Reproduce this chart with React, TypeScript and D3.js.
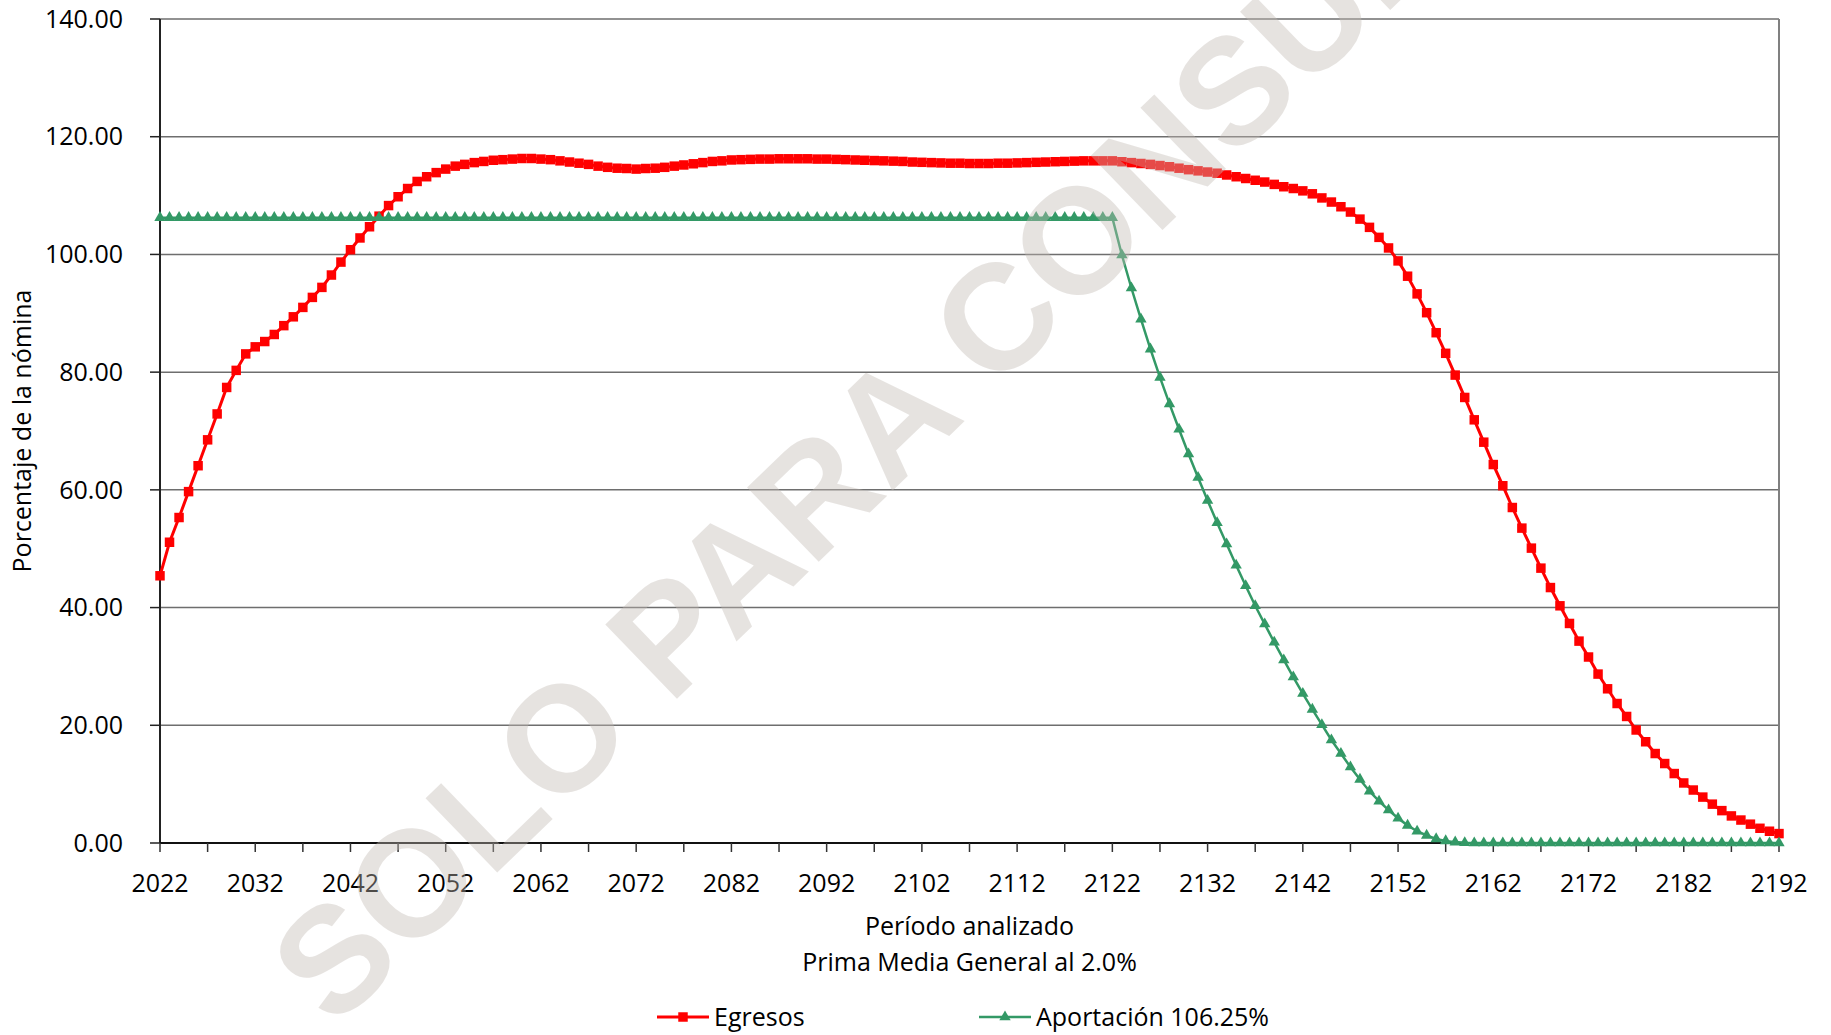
import React, { useEffect, useRef } from 'react';
import * as d3 from 'd3';

// años del período analizado
const years = d3.range(2022, 2193);

// Egresos (% de la nómina), 2022..2192
const egresos = [
  45.4, 51.1, 55.3, 59.7, 64.1, 68.5, 72.9, 77.4, 80.3, 83.1,
  84.3, 85.2, 86.4, 87.9, 89.4, 91.0, 92.7, 94.4, 96.5, 98.7,
  100.8, 102.8, 104.7, 106.5, 108.3, 109.8, 111.2, 112.4, 113.2, 113.9,
  114.5, 115.0, 115.3, 115.6, 115.8, 116.0, 116.1, 116.2, 116.3, 116.3,
  116.2, 116.1, 115.9, 115.7, 115.5, 115.3, 115.0, 114.8, 114.65, 114.6,
  114.5, 114.6, 114.65, 114.8, 115.0, 115.2, 115.4, 115.6, 115.8, 115.9,
  116.05, 116.1, 116.15, 116.2, 116.2, 116.25, 116.25, 116.25, 116.25, 116.2,
  116.2, 116.15, 116.1, 116.05, 116.0, 115.95, 115.9, 115.85, 115.8, 115.7,
  115.65, 115.6, 115.55, 115.5, 115.5, 115.45, 115.45, 115.45, 115.5, 115.5,
  115.55, 115.6, 115.65, 115.7, 115.75, 115.8, 115.85, 115.9, 115.9, 115.9,
  115.9, 115.75, 115.6, 115.45, 115.3, 115.1, 114.9, 114.65, 114.4, 114.2,
  114.0, 113.8, 113.5, 113.2, 112.9, 112.6, 112.3, 111.9, 111.5, 111.2,
  110.8, 110.3, 109.6, 108.9, 108.1, 107.2, 106.0, 104.6, 102.9, 101.1,
  98.9, 96.3, 93.3, 90.1, 86.7, 83.2, 79.5, 75.7, 71.9, 68.1,
  64.3, 60.7, 57.0, 53.5, 50.1, 46.7, 43.4, 40.3, 37.3, 34.3,
  31.6, 28.7, 26.2, 23.7, 21.5, 19.2, 17.2, 15.2, 13.5, 11.8,
  10.2, 9.0, 7.8, 6.6, 5.5, 4.6, 3.9, 3.2, 2.5, 2.0,
  1.6
];

// Aportación 106.25% (% de la nómina), 2022..2192
const aportacion = [
  106.25, 106.25, 106.25, 106.25, 106.25, 106.25, 106.25, 106.25, 106.25, 106.25,
  106.25, 106.25, 106.25, 106.25, 106.25, 106.25, 106.25, 106.25, 106.25, 106.25,
  106.25, 106.25, 106.25, 106.25, 106.25, 106.25, 106.25, 106.25, 106.25, 106.25,
  106.25, 106.25, 106.25, 106.25, 106.25, 106.25, 106.25, 106.25, 106.25, 106.25,
  106.25, 106.25, 106.25, 106.25, 106.25, 106.25, 106.25, 106.25, 106.25, 106.25,
  106.25, 106.25, 106.25, 106.25, 106.25, 106.25, 106.25, 106.25, 106.25, 106.25,
  106.25, 106.25, 106.25, 106.25, 106.25, 106.25, 106.25, 106.25, 106.25, 106.25,
  106.25, 106.25, 106.25, 106.25, 106.25, 106.25, 106.25, 106.25, 106.25, 106.25,
  106.25, 106.25, 106.25, 106.25, 106.25, 106.25, 106.25, 106.25, 106.25, 106.25,
  106.25, 106.25, 106.25, 106.25, 106.25, 106.25, 106.25, 106.25, 106.25, 106.25,
  106.25, 99.9, 94.3, 89.0, 83.9, 79.1, 74.6, 70.3, 66.1, 62.1,
  58.2, 54.4, 50.8, 47.2, 43.7, 40.3, 37.2, 34.1, 31.1, 28.2,
  25.4, 22.7, 20.1, 17.5, 15.2, 12.9, 10.8, 8.8, 7.1, 5.6,
  4.2, 3.0, 2.0, 1.3, 0.7, 0.35, 0.15, 0.05, 0, 0,
  0, 0, 0, 0, 0, 0, 0, 0, 0, 0,
  0, 0, 0, 0, 0, 0, 0, 0, 0, 0,
  0, 0, 0, 0, 0, 0, 0, 0, 0, 0,
  0
];

const yTicks = [0, 20, 40, 60, 80, 100, 120, 140];
const xLabelYears = [2022, 2032, 2042, 2052, 2062, 2072, 2082, 2092, 2102, 2112, 2122, 2132, 2142, 2152, 2162, 2172, 2182, 2192];
const xTickYears = d3.range(2022, 2193, 5);

const W = 1831;
const H = 1035;
const plot = { left: 160, right: 1779, top: 19, bottom: 843 };

const RED = '#FF0000';
const GREEN = '#339966';
const FONT = "'Open Sans', 'Noto Sans', sans-serif";
const FS = 25;

export default function App() {
  const ref = useRef<SVGSVGElement>(null);

  useEffect(() => {
    const svg = d3.select(ref.current);
    svg.selectAll('*').remove();

    const x = d3.scaleLinear().domain([2022, 2192]).range([plot.left, plot.right]);
    const y = d3.scaleLinear().domain([0, 140]).range([plot.bottom, plot.top]);

    // gridlines
    svg.append('g')
      .selectAll('line')
      .data(yTicks.filter(d => d > 0))
      .join('line')
      .attr('x1', plot.left).attr('x2', plot.right)
      .attr('y1', d => y(d)).attr('y2', d => y(d))
      .attr('stroke', '#6e6e6e').attr('stroke-width', 1.5);

    // right border
    svg.append('line')
      .attr('x1', plot.right).attr('x2', plot.right)
      .attr('y1', plot.top).attr('y2', plot.bottom)
      .attr('stroke', '#808080').attr('stroke-width', 2);

    // y axis
    const yAxis = svg.append('g');
    yAxis.append('line')
      .attr('x1', plot.left).attr('x2', plot.left)
      .attr('y1', plot.top).attr('y2', plot.bottom)
      .attr('stroke', '#222').attr('stroke-width', 2);
    yAxis.selectAll('line.tick')
      .data(yTicks)
      .join('line')
      .attr('class', 'tick')
      .attr('x1', plot.left - 10).attr('x2', plot.left)
      .attr('y1', d => y(d)).attr('y2', d => y(d))
      .attr('stroke', '#222').attr('stroke-width', 1.5);
    yAxis.selectAll('text')
      .data(yTicks)
      .join('text')
      .attr('x', 123)
      .attr('y', d => y(d))
      .attr('dy', '0.35em')
      .attr('text-anchor', 'end')
      .attr('font-family', FONT)
      .attr('font-size', FS)
      .attr('fill', '#000')
      .text(d => d3.format('.2f')(d));

    // x axis
    const xAxis = svg.append('g');
    xAxis.append('line')
      .attr('x1', plot.left).attr('x2', plot.right)
      .attr('y1', plot.bottom).attr('y2', plot.bottom)
      .attr('stroke', '#111').attr('stroke-width', 2);
    xAxis.selectAll('line.tick')
      .data(xTickYears)
      .join('line')
      .attr('class', 'tick')
      .attr('x1', d => x(d)).attr('x2', d => x(d))
      .attr('y1', plot.bottom).attr('y2', plot.bottom + 9)
      .attr('stroke', '#333').attr('stroke-width', 1.5);
    xAxis.selectAll('text')
      .data(xLabelYears)
      .join('text')
      .attr('x', d => x(d))
      .attr('y', 892)
      .attr('text-anchor', 'middle')
      .attr('font-family', FONT)
      .attr('font-size', FS)
      .attr('fill', '#000')
      .text(d => String(d));

    // titles
    svg.append('text')
      .attr('x', (plot.left + plot.right) / 2).attr('y', 935)
      .attr('text-anchor', 'middle')
      .attr('font-family', FONT).attr('font-size', FS)
      .text('Período analizado');
    svg.append('text')
      .attr('x', (plot.left + plot.right) / 2).attr('y', 971)
      .attr('text-anchor', 'middle')
      .attr('font-family', FONT).attr('font-size', FS)
      .text('Prima Media General al 2.0%');
    svg.append('text')
      .attr('transform', `translate(31, ${(plot.top + plot.bottom) / 2}) rotate(-90)`)
      .attr('text-anchor', 'middle')
      .attr('font-family', FONT).attr('font-size', FS)
      .text('Porcentaje de la nómina');

    // series
    const line = d3.line<number>()
      .x((_, i) => x(years[i]))
      .y(d => y(d));

    const square = d3.symbol(d3.symbolSquare, 90)();
    const triangle = d3.symbol(d3.symbolTriangle, 56)();

    svg.append('path')
      .datum(egresos)
      .attr('d', line)
      .attr('fill', 'none')
      .attr('stroke', RED)
      .attr('stroke-width', 3);
    svg.append('g')
      .selectAll('path')
      .data(egresos)
      .join('path')
      .attr('d', square)
      .attr('transform', (d, i) => `translate(${x(years[i])}, ${y(d)})`)
      .attr('fill', RED);

    svg.append('path')
      .datum(aportacion)
      .attr('d', line)
      .attr('fill', 'none')
      .attr('stroke', GREEN)
      .attr('stroke-width', 2.5);
    svg.append('g')
      .selectAll('path')
      .data(aportacion)
      .join('path')
      .attr('d', triangle)
      .attr('transform', (d, i) => `translate(${x(years[i])}, ${y(d)})`)
      .attr('fill', GREEN);

    // legend
    const legendY = 1017;
    const lg = svg.append('g');
    lg.append('line')
      .attr('x1', 657).attr('x2', 709).attr('y1', legendY).attr('y2', legendY)
      .attr('stroke', RED).attr('stroke-width', 3);
    lg.append('path').attr('d', square).attr('transform', `translate(683, ${legendY})`).attr('fill', RED);
    lg.append('text')
      .attr('x', 714).attr('y', legendY).attr('dy', '0.35em')
      .attr('font-family', FONT).attr('font-size', FS)
      .text('Egresos');
    lg.append('line')
      .attr('x1', 979).attr('x2', 1031).attr('y1', legendY).attr('y2', legendY)
      .attr('stroke', GREEN).attr('stroke-width', 2.5);
    lg.append('path').attr('d', triangle).attr('transform', `translate(1005, ${legendY})`).attr('fill', GREEN);
    lg.append('text')
      .attr('x', 1036).attr('y', legendY).attr('dy', '0.35em')
      .attr('font-family', FONT).attr('font-size', FS)
      .text('Aportación 106.25%');

    // watermark
    svg.append('text')
      .attr('transform', 'translate(334, 1030) rotate(-44)')
      .attr('font-family', "'Liberation Sans', Arial, sans-serif")
      .attr('font-weight', 'bold')
      .attr('font-size', 150)
      .attr('fill', '#C3BBB4')
      .attr('opacity', 0.4)
      .text('SOLO PARA CONSULTA');
  }, []);

  return (
    <svg
      ref={ref}
      width={W}
      height={H}
      style={{ position: 'absolute', left: 0, top: 0, background: '#fff', display: 'block' }}
    />
  );
}
